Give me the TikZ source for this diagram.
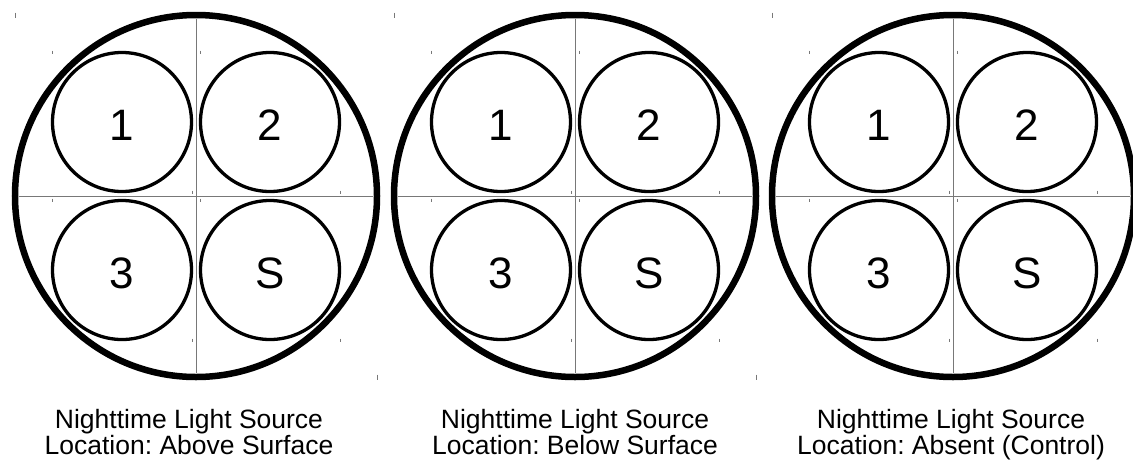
\documentclass[tikz,border=0pt]{standalone}
\usepackage{fontspec}
\setmainfont{Liberation Sans}
\usetikzlibrary{positioning}
\definecolor{cgray}{RGB}{120,120,120}
\frenchspacing
\tikzset{
  ring/.style={
    circle, draw=black, line width=6.5pt,
    minimum size=362pt, inner sep=0pt
  },
  cell/.style={
    circle, draw=black, line width=3.3pt,
    minimum size=139pt, inner sep=0pt,
    text height=37pt, text depth=0pt,
    font=\fontsize{44}{44}\selectfont
  },
  axis/.style={draw=cgray, line width=1pt},
  cropmark/.style={draw=cgray, line width=0.9pt},
  caption/.style={
    align=center, inner sep=0pt,
    font=\fontsize{26.5}{25.5}\selectfont
  }
}

\begin{document}
\begin{tikzpicture}[x=1pt, y=-1pt]
  \useasboundingbox (0,0) rectangle (1133,467);

  %% ---- three trays ---------------------------------------------
  \foreach \cx/\tx/\where [count=\i] in
      {196/189/Above Surface, 575/575/Below Surface,
       953/951/Absent (Control)} {

    \node[ring] (ring\i) at (\cx,196) {};
    \draw[axis] ([yshift=-7pt]ring\i.north) -- ([yshift=7pt]ring\i.south);
    \draw[axis] ([xshift=7pt]ring\i.west) -- ([xshift=-7pt]ring\i.east);

    \draw[cropmark] ([shift={(-181,-181)}]ring\i.center) ++(0,-2.5) -- ++(0,5);
    \draw[cropmark] ([shift={(181,181)}]ring\i.center) ++(0,-2.5) -- ++(0,5);

    %% ---- dishes
    \foreach \nm/\dx/\dy/\txt in
        {one/-74/-74/1, two/74/-74/2, three/-74/74/3, src/74/74/S} {
      \node[cell] (\nm\i) at (\cx+\dx,196+\dy) {\txt};
      \draw[cropmark] ([shift={(-70,-70)}]\nm\i.center) ++(0,-1.5) -- ++(0,3);
      \draw[cropmark] ([shift={(70,70)}]\nm\i.center) ++(0,-1.5) -- ++(0,3);
    }

    \node[caption, anchor=base] (cap\i) at (\tx,454)
      {Nighttime Light Source\\Location: \where};
  }

\end{tikzpicture}
\end{document}
